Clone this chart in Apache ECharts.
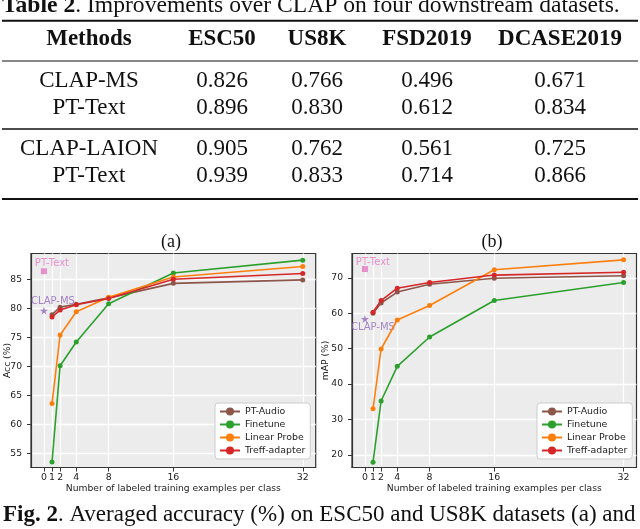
<!DOCTYPE html>
<html><head><meta charset="utf-8">
<script src="https://cdn.jsdelivr.net/npm/echarts@6/dist/echarts.min.js"></script>
<style>html,body{margin:0;padding:0;background:#fff}#c{width:640px;height:529px}</style>
</head><body><div id="c"></div>
<script>
// ---- table data ----
const tableTitleBold = 'Table 2';
const tableTitleRest = '. Improvements over CLAP on four downstream datasets.';
const tableHeaders = ['Methods', 'ESC50', 'US8K', 'FSD2019', 'DCASE2019'];
const tableMethods = ['CLAP-MS', 'PT-Text', 'CLAP-LAION', 'PT-Text'];
const tableESC50 = ['0.826', '0.896', '0.905', '0.939'];
const tableUS8K = ['0.766', '0.830', '0.762', '0.833'];
const tableFSD2019 = ['0.496', '0.612', '0.561', '0.714'];
const tableDCASE2019 = ['0.671', '0.834', '0.725', '0.866'];
const captionBold = 'Fig. 2';
const captionRest = '. Averaged accuracy (%) on ESC50 and US8K datasets (a) and';

// ---- chart data ----
const shots = [1, 2, 4, 8, 16, 32];
const xTicks = [0, 1, 2, 4, 8, 16, 32];
const seriesNames = ['PT-Audio', 'Finetune', 'Linear Probe', 'Treff-adapter'];
const accPTAudio = [78.9, 80.2, 80.7, 81.8, 84.3, 84.9];
const accFinetune = [53.5, 70.1, 74.2, 80.8, 86.1, 88.3];
const accLinearProbe = [63.6, 75.4, 79.4, 81.9, 85.4, 87.2];
const accTreff = [78.5, 79.7, 80.6, 81.7, 85.0, 86.0];
const accPTText = 86.4;
const accCLAPMS = 79.6;
const accTicks = [55, 60, 65, 70, 75, 80, 85];

const mapPTAudio = [60.0, 62.9, 66.0, 68.2, 69.9, 70.6];
const mapFinetune = [17.9, 35.2, 45.0, 53.3, 63.6, 68.7];
const mapLinearProbe = [33.0, 49.9, 58.1, 62.2, 72.3, 75.1];
const mapTreff = [60.3, 63.6, 67.1, 68.7, 70.8, 71.6];
const mapPTText = 72.5;
const mapCLAPMS = 58.4;
const mapTicks = [20, 30, 40, 50, 60, 70];

const colors = ['#8c564b', '#2ca02c', '#ff7f0e', '#d62728'];
const pink = '#e377c2', purple = '#9467bd';
const SANS = 'DejaVu Sans', SERIF = 'Liberation Serif';
const STAR = 'path://M50,0 L61,35 L98,35 L68,57 L79,91 L50,70 L21,91 L32,57 L2,35 L39,35 Z';

// ---- table graphics ----
const colX = [89, 222, 317, 427, 560];
const headerY = 39;
const rowY = [81.2, 108.2, 149.2, 176.2];
const graphic = [];
graphic.push({type: 'text', x: 2, y: 6, silent: true, style: {
  text: '{b|' + tableTitleBold + '}' + tableTitleRest,
  rich: {b: {fontWeight: 'bold', fontFamily: SERIF, fontSize: 23.6, fill: '#111'}},
  fontFamily: SERIF, fontSize: 23.6, fill: '#111', align: 'left', verticalAlign: 'middle'}});
[[20.7, 2], [61, 1], [129, 1.4], [199, 2]].forEach(([y, w]) => {
  graphic.push({type: 'line', silent: true, shape: {x1: 2, y1: y, x2: 638, y2: y}, style: {stroke: '#111', lineWidth: w}});
});
tableHeaders.forEach((h, i) => {
  graphic.push({type: 'text', x: colX[i], y: headerY, silent: true, style: {text: h, fontFamily: SERIF, fontWeight: 'bold', fontSize: 23, fill: '#111', align: 'center', verticalAlign: 'middle'}});
});
const cols = [tableMethods, tableESC50, tableUS8K, tableFSD2019, tableDCASE2019];
cols.forEach((col, i) => col.forEach((v, r) => {
  graphic.push({type: 'text', x: colX[i], y: rowY[r], silent: true, style: {text: v, fontFamily: SERIF, fontSize: 23, fill: '#111', align: 'center', verticalAlign: 'middle'}});
}));
graphic.push({type: 'text', x: 3, y: 515, silent: true, style: {
  text: '{b|' + captionBold + '}' + captionRest,
  rich: {b: {fontWeight: 'bold', fontFamily: SERIF, fontSize: 23, fill: '#111'}},
  fontFamily: SERIF, fontSize: 23, fill: '#111', align: 'left', verticalAlign: 'middle'}});
graphic.push({type: 'text', x: 171, y: 242, silent: true, style: {text: '(a)', fontFamily: SERIF, fontSize: 18, fill: '#111', align: 'center', verticalAlign: 'middle'}});
graphic.push({type: 'text', x: 492, y: 242, silent: true, style: {text: '(b)', fontFamily: SERIF, fontSize: 18, fill: '#111', align: 'center', verticalAlign: 'middle'}});

// ---- charts ----
const grids = [
  {left: 31, top: 253.5, width: 284.7, height: 214, show: true, backgroundColor: '#ececec', borderColor: '#333', borderWidth: 1.2},
  {left: 352, top: 253.5, width: 284.5, height: 214, show: true, backgroundColor: '#ececec', borderColor: '#333', borderWidth: 1.2}
];
function xAxis(gi) {
  return {type: 'value', gridIndex: gi, min: -1.6, max: 33.6,
    name: 'Number of labeled training examples per class', nameLocation: 'middle', nameGap: 17,
    nameMoveOverlap: false,
    nameTextStyle: {fontFamily: SANS, fontSize: 9.2, color: '#222'},
    axisLine: {show: true, onZero: false, lineStyle: {color: '#333', width: 1.2}},
    axisTick: {show: true, length: 4, customValues: xTicks, lineStyle: {color: '#333'}},
    axisLabel: {customValues: xTicks, fontFamily: SANS, fontSize: 9.4, color: '#222', margin: 6},
    splitLine: {show: true, lineStyle: {color: '#fff', width: 1.3}}};
}
function yAxis(gi, min, max, ticks, name, gap) {
  return {type: 'value', gridIndex: gi, min: min, max: max,
    name: name, nameLocation: 'middle', nameGap: gap, nameRotate: 90,
    nameMoveOverlap: false,
    nameTextStyle: {fontFamily: SANS, fontSize: 9.2, color: '#222'},
    axisLine: {show: true, onZero: false, lineStyle: {color: '#333', width: 1.2}},
    axisTick: {show: true, length: 4, customValues: ticks, lineStyle: {color: '#333'}},
    axisLabel: {customValues: ticks, fontFamily: SANS, fontSize: 9.2, color: '#222', margin: 9},
    splitLine: {show: true, lineStyle: {color: '#fff', width: 1.3}}};
}
function lineSeries(gi, name, vals, color) {
  return {type: 'line', name: name, xAxisIndex: gi, yAxisIndex: gi,
    data: shots.map((x, i) => [x, vals[i]]), color: color,
    symbol: 'circle', symbolSize: 5, showSymbol: true,
    lineStyle: {width: 1.6, color: color}, itemStyle: {color: color},
    emphasis: {disabled: true}, animation: false};
}
function markSeries(gi, name, y, symbol, size, color, offset) {
  return {type: 'scatter', name: name, xAxisIndex: gi, yAxisIndex: gi,
    data: [{name: name, value: [0, y]}], symbol: symbol, symbolSize: size,
    itemStyle: {color: color}, emphasis: {disabled: true}, animation: false,
    label: {show: true, position: 'inside', offset: offset, formatter: '{b}', color: color, fontFamily: SANS, fontSize: 10}};
}
const series = [];
[[accPTAudio, accFinetune, accLinearProbe, accTreff], [mapPTAudio, mapFinetune, mapLinearProbe, mapTreff]].forEach((set, gi) => {
  set.forEach((vals, k) => series.push(lineSeries(gi, seriesNames[k], vals, colors[k])));
});
series.push(markSeries(0, 'PT-Text', accPTText, 'rect', 6, pink, [8, -8]));
series.push(markSeries(0, 'CLAP-MS', accCLAPMS, STAR, 8, purple, [9, -9]));
series.push(markSeries(1, 'PT-Text', mapPTText, 'rect', 6, pink, [8, -7]));
series.push(markSeries(1, 'CLAP-MS', mapCLAPMS, STAR, 8, purple, [8, 8]));

function legend(left) {
  return {data: seriesNames, left: left, top: 403, orient: 'vertical',
    backgroundColor: '#fff', borderColor: '#ccc', borderWidth: 1, borderRadius: 3,
    padding: [4, 5, 4, 4], itemGap: 4, itemWidth: 20, itemHeight: 10,
    selectedMode: false, textStyle: {fontFamily: SANS, fontSize: 9.4, color: '#222'}};
}

const chart = echarts.init(document.getElementById('c'), null, {renderer: 'canvas'});
chart.setOption({
  animation: false,
  backgroundColor: '#fff',
  grid: grids,
  xAxis: [xAxis(0), xAxis(1)],
  yAxis: [yAxis(0, 52.55, 89.45, accTicks, 'Acc (%)', 19), yAxis(1, 16.4, 76.9, mapTicks, 'mAP (%)', 21.5)],
  legend: [legend(215), legend(537)],
  series: series,
  graphic: graphic
});
</script></body></html>
